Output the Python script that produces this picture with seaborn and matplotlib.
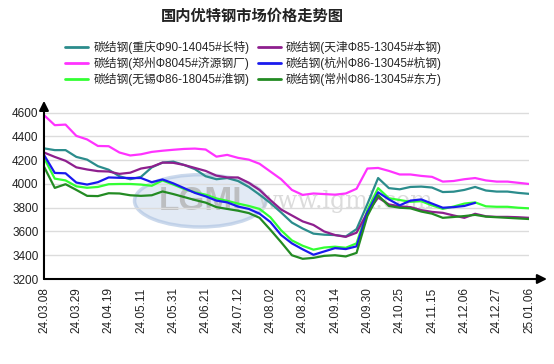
import pandas as pd
import matplotlib
matplotlib.use("Agg")
import matplotlib.pyplot as plt
from matplotlib.patches import Ellipse
import seaborn as sns

# tick labels (one every 3 points)
tick_labels = ["24.03.08", "24.03.29", "24.04.19", "24.05.11", "24.05.31", "24.06.21",
               "24.07.12", "24.08.02", "24.08.23", "24.09.14", "24.09.30", "24.10.25",
               "24.11.15", "24.12.06", "24.12.27", "25.01.06"]

chongqing = [4300, 4285, 4285, 4228, 4205, 4150, 4120, 4065, 4040, 4060, 4140, 4180,
             4188, 4160, 4125, 4065, 4040, 4050, 4025, 3975, 3910, 3840, 3760, 3675,
             3625, 3582, 3573, 3570, 3558, 3620, 3830, 4050, 3965, 3955, 3975, 3978,
             3970, 3932, 3935, 3950, 3975, 3945, 3936, 3936, 3925, 3917]
tianjin = [4265, 4228, 4195, 4140, 4122, 4108, 4105, 4085, 4095, 4130, 4145, 4180,
           4178, 4160, 4135, 4110, 4070, 4055, 4055, 4010, 3950, 3865, 3785, 3735,
           3685, 3655, 3600, 3570, 3555, 3590, 3760, 3885, 3828, 3812, 3805, 3780,
           3765, 3757, 3735, 3715, 3749, 3728, 3723, 3723, 3720, 3715]
zhengzhou = [4580, 4495, 4500, 4405, 4375, 4320, 4318, 4265, 4240, 4250, 4270, 4280,
             4288, 4295, 4298, 4290, 4230, 4245, 4220, 4205, 4170, 4105, 4040, 3950,
             3908, 3920, 3915, 3910, 3920, 3960, 4130, 4135, 4110, 4080, 4080, 4068,
             4060, 4020, 4025, 4040, 4050, 4030, 4020, 4020, 4010, 4000]
hangzhou = [4245, 4093, 4090, 4012, 3995, 4015, 4055, 4052, 4050, 4050, 4015, 4038,
            4005, 3965, 3925, 3896, 3860, 3845, 3810, 3790, 3750, 3680, 3570, 3500,
            3450, 3404, 3432, 3460, 3452, 3475, 3760, 3930, 3870, 3820, 3860, 3870,
            3835, 3800, 3805, 3815, 3841, None, None, None, None, None]
wuxi = [4220, 4045, 4030, 3980, 3968, 3975, 3998, 4000, 4000, 3995, 3985, 4030,
        3995, 3958, 3930, 3910, 3878, 3858, 3835, 3815, 3790, 3720, 3610, 3525,
        3480, 3447, 3465, 3472, 3463, 3500, 3780, 3965, 3880, 3865, 3850, 3855,
        3820, 3790, 3810, 3835, 3845, 3812, 3808, 3808, 3800, 3795]
changzhou = [4146, 3967, 3998, 3950, 3900, 3898, 3922, 3920, 3905, 3900, 3905, 3937,
             3915, 3890, 3865, 3843, 3805, 3790, 3775, 3755, 3715, 3615, 3510, 3400,
             3370, 3378, 3395, 3400, 3390, 3420, 3730, 3905, 3815, 3800, 3795, 3768,
             3750, 3715, 3722, 3730, 3740, 3725, 3720, 3715, 3710, 3705]

names = ["碳结钢(重庆Φ90-14045#长特)", "碳结钢(郑州Φ8045#济源钢厂)", "碳结钢(无锡Φ86-18045#淮钢)",
         "碳结钢(天津Φ85-13045#本钢)", "碳结钢(杭州Φ86-13045#杭钢)", "碳结钢(常州Φ86-13045#东方)"]
series = [chongqing, zhengzhou, wuxi, tianjin, hangzhou, changzhou]
colors = ["#2b8c8c", "#ff33ff", "#33ff33", "#8e1f8e", "#1a1aee", "#238b23"]

sns.set_theme(style="white")
plt.rcParams["font.family"] = ["Liberation Sans", "Noto Sans CJK SC"]

frames = []
for name, vals in zip(names, series):
    frames.append(pd.DataFrame({"x": range(len(vals)), "price": vals, "name": name}))
df = pd.concat(frames).dropna()

fig = plt.figure(figsize=(5.54, 3.64), dpi=100)
ax = fig.add_axes([0.0794, 0.2335, 0.8755, 0.4895])

# watermark (logo + site)
ax.add_patch(Ellipse((14.5, 3858), 12.2, 440, facecolor="#cfdcef", edgecolor="#a9c0e0",
                     lw=2.5, alpha=0.6, zorder=0))
ax.text(14.5, 3850, "LGMI", fontsize=24, fontweight="bold", color="#b3b3b3", alpha=0.8,
        ha="center", va="center", zorder=0.5)
ax.text(28, 3850, "www.lgmi.com", fontsize=17, family="DejaVu Serif", color="#c4c4c4",
        alpha=0.6, ha="center", va="center", zorder=0.5)

sns.lineplot(data=df, x="x", y="price", hue="name", hue_order=names, palette=colors,
             linewidth=1.6, ax=ax, legend=False, zorder=3)

ax.set_xlim(0, 45)
ax.set_ylim(3200, 4700)
ax.set_yticks(range(3200, 4601, 200))
ax.set_xticks(range(0, 46, 3))
ax.set_xticklabels(tick_labels, rotation=90)
ax.tick_params(axis="both", labelsize=8.5, colors="#222222", length=3, width=0.8)
ax.tick_params(axis="x", pad=3)
ax.tick_params(axis="y", pad=1)
ax.set_xlabel("")
ax.set_ylabel("")
ax.grid(axis="y", color="#dcdcdc", lw=1)
ax.grid(axis="x", visible=False)
for s in ax.spines.values():
    s.set_visible(False)

# axis arrows
ax.annotate("", xy=(1.037, 0), xytext=(0, 0), xycoords="axes fraction",
            arrowprops=dict(arrowstyle="-|>", color="black", lw=1.5, mutation_scale=14,
                            shrinkA=0, shrinkB=0))
ax.annotate("", xy=(0, 1.0), xytext=(0, 0), xycoords="axes fraction",
            arrowprops=dict(arrowstyle="-|>", color="black", lw=1.5, mutation_scale=14,
                            shrinkA=0, shrinkB=0))

fig.text(0.455, 0.958, "国内优特钢市场价格走势图", fontsize=11, fontweight="bold",
         family=["Noto Sans CJK SC"], ha="center", va="center", color="#222222")

handles = [plt.Line2D([], [], color=c, lw=2) for c in colors]
fig.legend(handles, names, loc="upper left", bbox_to_anchor=(0.117, 0.888), ncol=2,
           frameon=False, fontsize=8.5, handlelength=2.0, handletextpad=0.4,
           columnspacing=0.7, labelspacing=0.25, borderaxespad=0, borderpad=0)

fig.savefig("out.png", dpi=100)
